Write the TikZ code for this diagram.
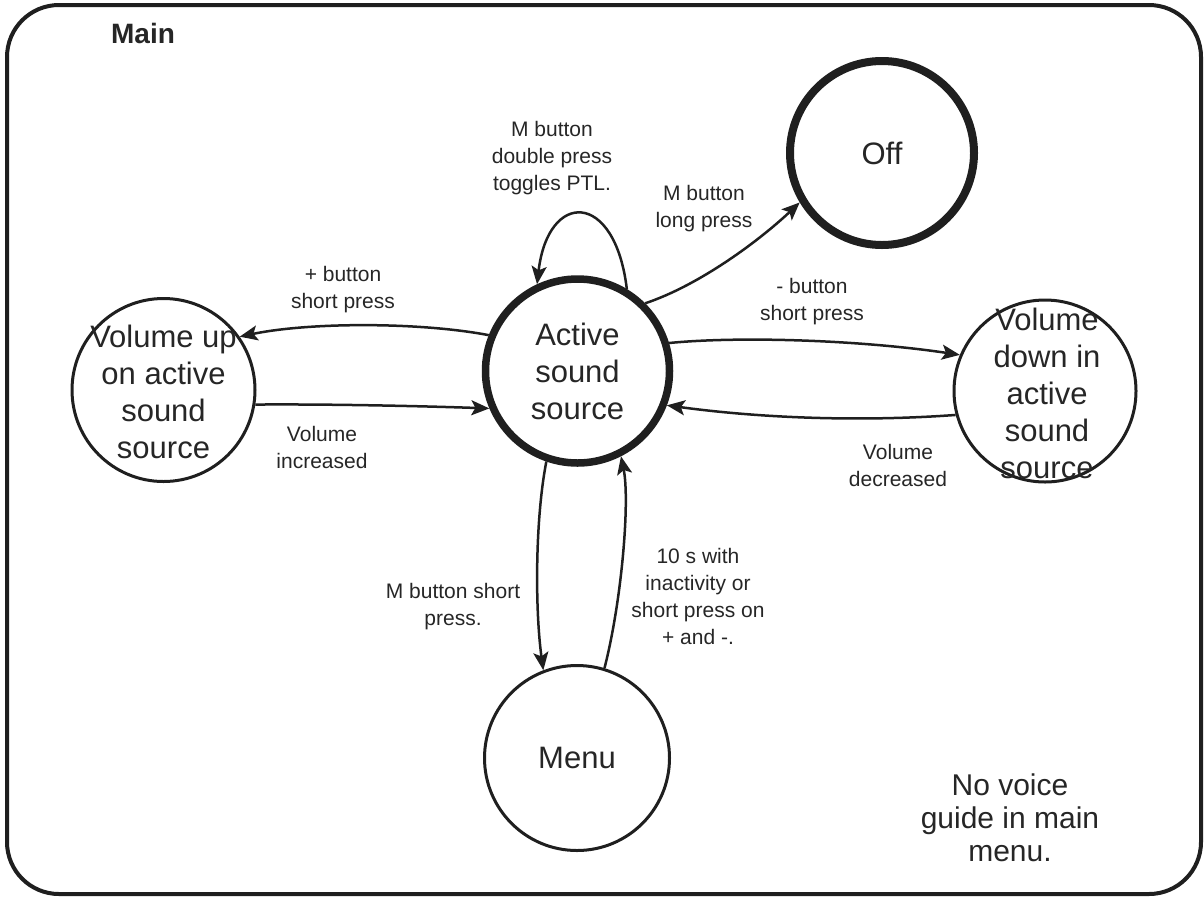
\documentclass[tikz,border=0pt]{standalone}
\usepackage{fontspec}
\setmainfont{Liberation Sans}
\usetikzlibrary{arrows.meta}
\tikzset{
  state/.style={circle, draw=black!88, line width=3pt, minimum size=183pt, inner sep=0pt},
  thickstate/.style={state, line width=7.5pt, minimum size=184pt},
  statetext/.style={font=\fontsize{31}{37}\selectfont, align=center, text=black!85, inner sep=0pt},
  lbl/.style={font=\fontsize{21}{27}\selectfont, align=center, text=black!85, inner sep=0pt},
  trans/.style={draw=black!88, line width=2.5pt, -{Stealth[length=18pt, width=15pt, inset=4pt]}},
}
\begin{document}
\begin{tikzpicture}[x=1pt, y=-1pt]
\useasboundingbox (0,0) rectangle (1204,906);
\draw[line width=4pt, rounded corners=52pt, draw=black!88] (7,5) rectangle (1201,894);
\node[font=\bfseries\fontsize{28}{32}\selectfont, text=black!85, inner sep=0pt] (title) at (143,33) {Main};

\node[thickstate, line width=8pt] (off) at (882,153) {};
\node[statetext] (offtext) at (off.center) {Off};
\node[thickstate] (act) at (577.5,371) {};
\node[statetext] (acttext) at (act.center) {Active\\sound\\source};
\node[state] (vup) at (163.5,390) {};
\node[statetext] (vuptext) at (163.5,392) {Volume up\\on active\\sound\\source};
\node[state, minimum size=182pt] (vdown) at (1045,391) {};
\node[statetext] (vdowntext) at (1047,393) {Volume\\down in\\active\\sound\\source};
\node[state, minimum size=185pt] (menu) at (577,758) {};
\node[statetext] (menutext) at (menu.center) {Menu};

% transitions
\draw[trans] (act.59.5) .. controls (615,190) and (548,190) .. (act.115.8);
\draw[trans] (act.45.6) .. controls (700,285) and (760,240) .. (off.211.4);
\draw[trans] (act.158) .. controls (420,322) and (310,322) .. (vup.35.7);
\draw[trans] (vup.-9) .. controls (330,404) and (420,406) .. (act.203);
\draw[trans] (act.17.4) .. controls (740,336) and (860,340) .. (vdown.157.5);
\draw[trans] (vdown.195.5) .. controls (860,422) and (760,418) .. (act.339.4);
\draw[trans] (act.251) .. controls (535,520) and (535,610) .. (menu.111);
\draw[trans] (menu.73) .. controls (622,600) and (630,500) .. (act.297);

% labels
\node[lbl] (l1) at (552,158) {M button\\double press\\toggles PTL.};
\node[lbl] (l2) at (704,209) {M button\\long press};
\node[lbl] (l3) at (343,290) {+ button\\short press};
\node[lbl] (l4) at (322,447) {Volume\\increased};
\node[lbl] (l5) at (812,302) {- button\\short press};
\node[lbl] (l6) at (898,465) {Volume\\decreased};
\node[lbl] (l7) at (453,607) {M button short\\press.};
\node[lbl] (l8) at (698,596) {10 s with\\inactivity or\\short press on\\+ and -.};

\node[font=\fontsize{30}{33}\selectfont, align=center, text=black!85, inner sep=0pt] (note) at (1010,818) {No voice\\guide in main\\menu.};
\end{tikzpicture}
\end{document}
